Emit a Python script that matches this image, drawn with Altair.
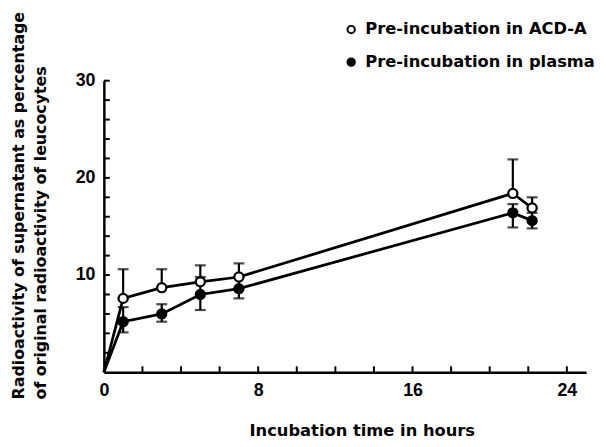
import altair as alt
import pandas as pd

# ---- data ----
times = [0, 1, 3, 5, 7, 21.2, 22.2]
acd_mean = [0, 7.6, 8.7, 9.3, 9.8, 18.4, 16.9]
acd_upper = [None, 10.6, 10.6, 11.0, 11.2, 21.9, 18.0]
plasma_mean = [0, 5.2, 6.0, 8.0, 8.6, 16.4, 15.6]
plasma_low = [None, 4.1, 5.2, 6.4, 7.6, 14.9, 14.8]
plasma_high = [None, 6.7, 7.0, 9.8, 9.8, 17.3, 16.4]

series_names = ["Pre-incubation in ACD-A", "Pre-incubation in plasma"]
x_ticks = [2, 4, 6, 8, 10, 12, 14, 16, 18, 20, 22, 24]
x_labels = [0, 8, 16, 24]
y_ticks = [2, 4, 6, 8, 10, 12, 14, 16, 18, 20, 22, 24, 26, 28, 30]
y_labels = [10, 20, 30]
x_title = "Incubation time in hours"
y_title = ["Radioactivity of supernatant as percentage", "of original radioactivity of leucocytes"]

rows = []
for i, t in enumerate(times):
    rows.append({"t": t, "series": series_names[0], "mean": acd_mean[i],
                 "lo": acd_mean[i], "hi": acd_upper[i]})
    rows.append({"t": t, "series": series_names[1], "mean": plasma_mean[i],
                 "lo": plasma_low[i], "hi": plasma_high[i]})
df = pd.DataFrame(rows)
xt_df = pd.DataFrame({"v": x_ticks})
yt_df = pd.DataFrame({"v": y_ticks})

TITLE_FONT = "DejaVu Sans"
LABEL_FONT = "Liberation Sans"
W, H = 488, 295
TICK_LEN = 6

xs = alt.Scale(domain=[0, 25], nice=False, zero=True)
ys = alt.Scale(domain=[0, 30], nice=False, zero=True)

base = alt.Chart(df)

main_x_axis = alt.Axis(
    values=x_labels, tickSize=0, labelPadding=10, domainWidth=2.5, domainColor="black",
    labelFont=LABEL_FONT, labelFontSize=18, labelFontWeight="bold", labelColor="black",
    labelFlush=False, grid=False,
    title=x_title, titleX=261, titleY=64, titleBaseline="alphabetic", titleAlign="center",
    titleFont=TITLE_FONT, titleFontSize=16.5, titleFontWeight="bold", titleColor="black",
)
main_y_axis = alt.Axis(
    values=y_labels, tickSize=0, labelPadding=9, domainWidth=2.5, domainColor="black",
    labelFont=LABEL_FONT, labelFontSize=18, labelFontWeight="bold", labelColor="black",
    labelFlush=False, grid=False,
    title=y_title, titleAngle=270, titleAlign="left", titleBaseline="top",
    titleX=-94, titleY=322, titleLineHeight=22,
    titleFont=TITLE_FONT, titleFontSize=16, titleFontWeight="bold", titleColor="black",
)

lines = base.mark_line(color="black", strokeWidth=2.8).encode(
    x=alt.X("t:Q", scale=xs, axis=main_x_axis),
    y=alt.Y("mean:Q", scale=ys, axis=main_y_axis),
    detail="series:N",
)

# inward-pointing tick marks on both axes
xticks = alt.Chart(xt_df).mark_rule(color="black", strokeWidth=2).encode(
    x=alt.X("v:Q", scale=xs, axis=None),
    y=alt.value(H),
    y2=alt.value(H - TICK_LEN),
)
yticks = alt.Chart(yt_df).mark_rule(color="black", strokeWidth=2).encode(
    y=alt.Y("v:Q", scale=ys, axis=None),
    x=alt.value(0),
    x2=alt.value(TICK_LEN),
)

err = base.transform_filter("datum.t > 0 && isValid(datum.hi)").mark_errorbar(
    ticks=True, size=11, thickness=2.2, color="black"
).encode(
    x=alt.X("t:Q", scale=xs, axis=None),
    y=alt.Y("lo:Q", scale=ys, axis=None),
    y2="hi:Q",
)

pts = base.transform_filter("datum.t > 0").mark_circle(
    size=85, stroke="black", strokeWidth=2.2, opacity=1
).encode(
    x=alt.X("t:Q", scale=xs, axis=None),
    y=alt.Y("mean:Q", scale=ys, axis=None),
    fill=alt.Fill("series:N", scale=alt.Scale(domain=series_names, range=["white", "black"]),
                  legend=alt.Legend(
                      orient="none", legendX=242, legendY=-60, title=None, padding=0,
                      labelFont=TITLE_FONT, labelFontSize=16.5, labelFontWeight="bold",
                      labelColor="black", symbolType="circle", symbolSize=55,
                      symbolStrokeColor="black", symbolStrokeWidth=2,
                      rowPadding=16, labelOffset=6, labelLimit=400)),
)

chart = alt.layer(lines, xticks, yticks, err, pts).resolve_axis(
    x="independent", y="independent"
).properties(
    width=W, height=H,
    autosize=alt.AutoSizeParams(type="none"),
    padding={"left": 97, "top": 71, "right": 12, "bottom": 65},
).configure_view(stroke=None).configure_axis(grid=False)

chart.save("out.html", embed_options={"renderer": "svg", "actions": False})
